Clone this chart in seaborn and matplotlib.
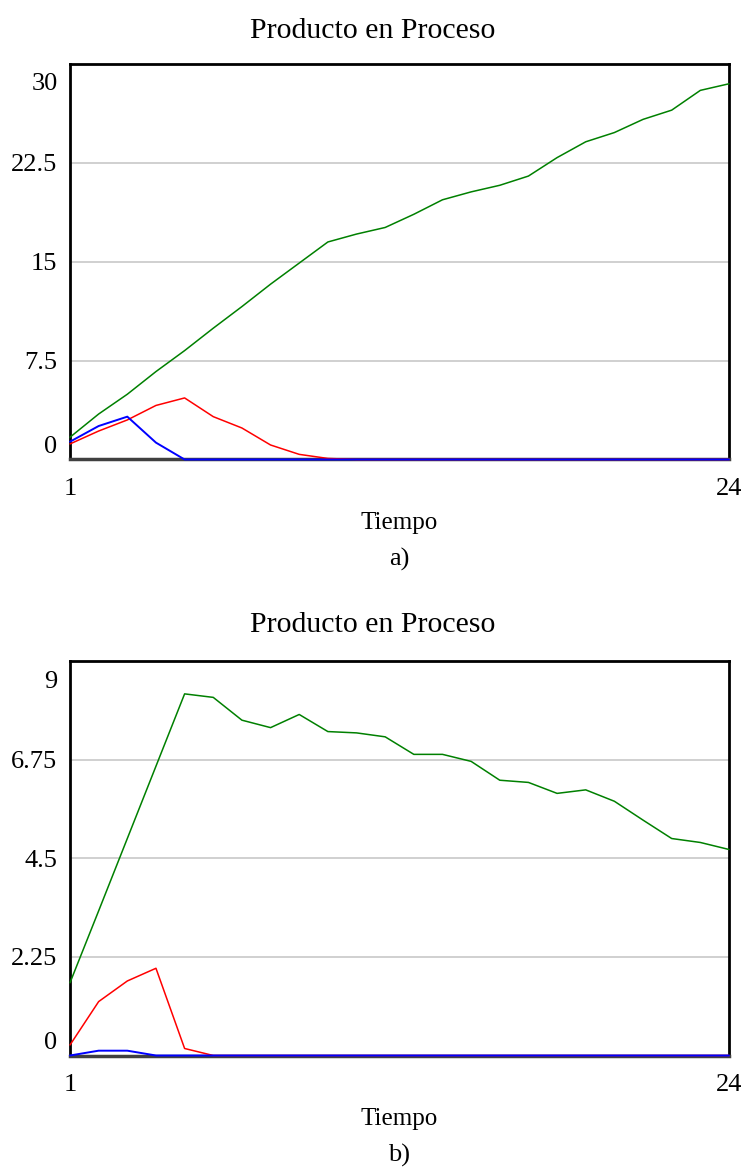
import numpy as np
import pandas as pd
import matplotlib
matplotlib.use("Agg")
import matplotlib.pyplot as plt
import matplotlib.transforms as mtransforms
import seaborn as sns

# ---- data ----
tiempo = list(range(1, 25))

a_verde = [1.69, 3.45, 4.95, 6.67, 8.26, 9.96, 11.6, 13.3, 14.9, 16.5, 17.1, 17.6,
           18.6, 19.7, 20.3, 20.8, 21.5, 22.9, 24.1, 24.8, 25.8, 26.5, 28.0, 28.5]
a_rojo = [1.18, 2.16, 3.0, 4.1, 4.67, 3.25, 2.39, 1.1, 0.39, 0.08, 0, 0,
          0, 0, 0, 0, 0, 0, 0, 0, 0, 0, 0, 0]
a_azul = [1.35, 2.54, 3.25, 1.28, 0, 0, 0, 0, 0, 0, 0, 0,
          0, 0, 0, 0, 0, 0, 0, 0, 0, 0, 0, 0]

b_verde = [1.66, 3.3, 4.95, 6.6, 8.25, 8.17, 7.65, 7.48, 7.78, 7.39, 7.36, 7.27,
           6.87, 6.87, 6.71, 6.28, 6.23, 5.98, 6.06, 5.8, 5.37, 4.95, 4.86, 4.7]
b_rojo = [0.24, 1.23, 1.70, 1.99, 0.16, 0, 0, 0, 0, 0, 0, 0,
          0, 0, 0, 0, 0, 0, 0, 0, 0, 0, 0, 0]
b_azul = [0, 0.11, 0.11, 0, 0, 0, 0, 0, 0, 0, 0, 0,
          0, 0, 0, 0, 0, 0, 0, 0, 0, 0, 0, 0]

a_yticks = [0, 7.5, 15, 22.5, 30]
a_yticklabels = ["0", "7.5", "15", "22.5", "30"]
b_yticks = [0, 2.25, 4.5, 6.75, 9]
b_yticklabels = ["0", "2.25", "4.5", "6.75", "9"]
xticks = [1, 24]
xticklabels = ["1", "24"]
titulo = "Producto en Proceso"
xlabel = "Tiempo"
sublabels = ["a)", "b)"]

sns.set_style("white")
plt.rcParams["font.family"] = ["Liberation Serif", "DejaVu Serif"]
plt.rcParams["text.color"] = "black"
plt.rcParams["axes.labelcolor"] = "black"
plt.rcParams["xtick.color"] = "black"
plt.rcParams["ytick.color"] = "black"

W, H = 746, 1173
fig = plt.figure(figsize=(W / 100, H / 100), dpi=100)

left = 70 / W
width = 659 / W
ax_a = fig.add_axes([left, 1 - 459.5 / H, width, 395.5 / H])
ax_b = fig.add_axes([left, 1 - 1055.5 / H, width, 394.5 / H])

colors = {"verde": "#008000", "rojo": "#ff0000", "azul": "#0000ff"}


def draw(ax, verde, rojo, azul, yticks, yticklabels, sub, title_pad):
    df = pd.DataFrame({"Tiempo": tiempo * 3,
                       "valor": verde + rojo + azul,
                       "serie": ["verde"] * 24 + ["rojo"] * 24 + ["azul"] * 24})
    sns.lineplot(data=df, x="Tiempo", y="valor", hue="serie", palette=colors,
                 hue_order=["verde", "rojo", "azul"], linewidth=1.1, ax=ax,
                 legend=False, estimator=None)
    for i, ln in enumerate(ax.lines):
        ln.set_clip_on(False)
        ln.set_zorder(5 + i)
        if i == 2:
            ln.set_linewidth(1.4)
    ax.set_xlim(1, 24)
    ax.set_ylim(yticks[0], yticks[-1])
    ax.set_xticks(xticks)
    ax.set_xticklabels(xticklabels, fontsize=19)
    ax.set_yticks(yticks)
    ax.set_yticklabels(yticklabels, fontsize=19)
    ax.tick_params(axis="both", length=0)
    ax.tick_params(axis="x", pad=13)
    ax.tick_params(axis="y", pad=9)
    ax.yaxis.grid(True, color="#c8c8c8", linewidth=1.2)
    ax.xaxis.grid(False)
    ax.set_axisbelow(True)
    for s in ["top", "left", "right"]:
        ax.spines[s].set_color("black")
        ax.spines[s].set_linewidth(2)
    ax.spines["bottom"].set_color("#404040")
    ax.spines["bottom"].set_linewidth(2.5)
    tx = (W / 2 - 70) / 659
    ax.set_title(titulo, fontsize=21.5, pad=title_pad, color="black", x=tx)
    ax.set_xlabel(xlabel, fontsize=18, labelpad=9)
    ax.set_ylabel("")
    labels = ax.get_yticklabels()
    off0 = mtransforms.ScaledTranslation(0, 15 / 100, fig.dpi_scale_trans)
    offn = mtransforms.ScaledTranslation(0, -18 / 100, fig.dpi_scale_trans)
    labels[0].set_transform(labels[0].get_transform() + off0)
    labels[-1].set_transform(labels[-1].get_transform() + offn)
    bb = ax.get_position()
    fig.text(bb.x0 + bb.width / 2, bb.y0 - 100 / H, sub, ha="center", va="center",
             fontsize=19)


draw(ax_a, a_verde, a_rojo, a_azul, a_yticks, a_yticklabels, sublabels[0], 19)
draw(ax_b, b_verde, b_rojo, b_azul, b_yticks, b_yticklabels, sublabels[1], 21)

fig.savefig("out.png", dpi=100)
